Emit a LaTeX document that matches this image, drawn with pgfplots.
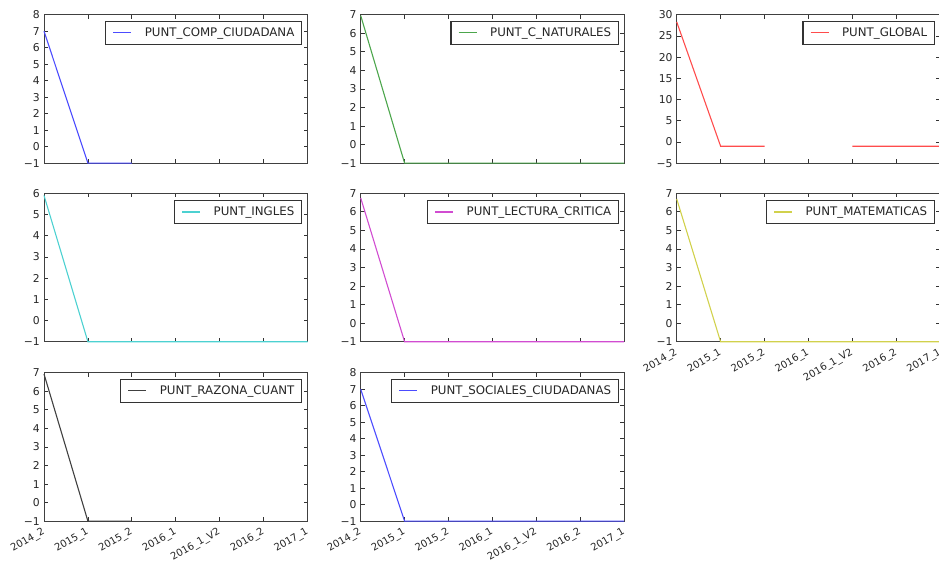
\documentclass[border=0pt]{standalone}
\usepackage{fontspec}
\setmainfont{DejaVu Sans}
\usepackage{pgfplots}
\pgfplotsset{compat=1.18}

\newcommand\fs{\fontsize{11.8}{14}\selectfont}
\newcommand\ts{\fontsize{10}{12}\selectfont}
\newcommand\tsy{\fontsize{10.8}{12}\selectfont}

% line colours: the classic single-letter colours, softened
\definecolor{mplb}{rgb}{0.30,0.30,1.00}
\definecolor{mplg}{rgb}{0.30,0.65,0.30}
\definecolor{mplr}{rgb}{1.00,0.30,0.30}
\definecolor{mplc}{rgb}{0.30,0.82,0.82}
\definecolor{mplm}{rgb}{0.82,0.30,0.82}
\definecolor{mply}{rgb}{0.82,0.82,0.30}
\definecolor{mplk}{rgb}{0.25,0.25,0.25}

\pgfplotsset{
  panel/.style={
    clip=false,
    scale only axis, width=263.5pt, height=148.5pt,
    xmin=0, xmax=6, xtick={0,...,6},
    unbounded coords=jump,
    tick align=inside, major tick length=4pt,
    every tick/.style={black!80, line width=0.8pt},
    axis line style={line width=1pt, black!75},
    tick label style={text=black!85},
    yticklabel style={font=\tsy, inner sep=0pt, xshift=-4pt},
    xticklabel style={font=\ts, rotate=30, anchor=north east, inner sep=0pt, yshift=-3.5pt, xshift=-5pt},
    legend style={at={(1,1)}, anchor=north east, xshift=-5.5pt, yshift=-6pt,
      draw=black!80, line width=1.2pt, font=\fs, text=black!85,
      inner xsep=7pt, inner ysep=6.5pt, nodes={inner sep=0pt}},
    legend image code/.code={\draw[#1, line width=1.1pt] (0pt,0pt) -- (18pt,0pt);},
    /tikz/every odd column/.append style={column sep=13pt},
    every axis plot/.append style={line width=1.1pt, no markers},
  },
  lbl/.style={xticklabels={2014\_2,2015\_1,2015\_2,2016\_1,2016\_1\_V2,2016\_2,2017\_1}},
  nolbl/.style={xticklabels={}},
  mid/.style={legend style={yshift=-0.5pt}},
  y7/.style={ymin=-1, ymax=7, ytick={-1,...,7}, yticklabels={−1,0,1,2,3,4,5,6,7}},
  y8/.style={ymin=-1, ymax=8, ytick={-1,...,8}, yticklabels={−1,0,1,2,3,4,5,6,7,8}},
  y6/.style={ymin=-1, ymax=6, ytick={-1,...,6}, yticklabels={−1,0,1,2,3,4,5,6}},
}

\begin{document}
\begin{tikzpicture}
\useasboundingbox (0,0) rectangle (939pt,560pt);
\clip (0,0) rectangle (939pt,560pt);

% row 1
\begin{axis}[panel, nolbl, y8, at={(44pt,545.3pt)}, anchor=north west]
\addplot[mplb] coordinates {(0,7.0) (1,-1) (2,-1)};
\addlegendentry{PUNT\_COMP\_CIUDADANA}
\end{axis}

\begin{axis}[panel, nolbl, y7, at={(360.7pt,545.3pt)}, anchor=north west]
\addplot[mplg] coordinates {(0,6.95) (1,-1) (2,-1) (3,-1) (4,-1) (5,-1) (6,-1)};
\addlegendentry{PUNT\_C\_NATURALES}
\end{axis}

\begin{axis}[panel, nolbl, at={(676.7pt,545.3pt)}, anchor=north west,
  ymin=-5, ymax=30, ytick={-5,0,...,30}, yticklabels={−5,0,5,10,15,20,25,30}]
\addplot[mplr] coordinates {(0,28.3) (1,-1) (2,-1) (3,nan) (4,-1) (5,-1) (6,-1)};
\addlegendentry{PUNT\_GLOBAL}
\end{axis}

% row 2
\begin{axis}[panel, nolbl, mid, y6, at={(44pt,366.7pt)}, anchor=north west]
\addplot[mplc] coordinates {(0,5.9) (1,-1) (2,-1) (3,-1) (4,-1) (5,-1) (6,-1)};
\addlegendentry{PUNT\_INGLES}
\end{axis}

\begin{axis}[panel, nolbl, mid, y7, at={(360.7pt,366.7pt)}, anchor=north west]
\addplot[mplm] coordinates {(0,6.75) (1,-1) (2,-1) (3,-1) (4,-1) (5,-1) (6,-1)};
\addlegendentry{PUNT\_LECTURA\_CRITICA}
\end{axis}

\begin{axis}[panel, lbl, mid, y7, at={(676.7pt,366.7pt)}, anchor=north west]
\addplot[mply] coordinates {(0,6.7) (1,-1) (2,-1) (3,-1) (4,-1) (5,-1) (6,-1)};
\addlegendentry{PUNT\_MATEMATICAS}
\end{axis}

% row 3
\begin{axis}[panel, lbl, y7, at={(44pt,187.3pt)}, anchor=north west]
\addplot[mplk] coordinates {(0,6.93) (1,-1) (2,-1)};
\addlegendentry{PUNT\_RAZONA\_CUANT}
\end{axis}

\begin{axis}[panel, lbl, y8, at={(360.7pt,187.3pt)}, anchor=north west]
\addplot[mplb] coordinates {(0,7.0) (1,-1) (2,-1) (3,-1) (4,-1) (5,-1) (6,-1)};
\addlegendentry{PUNT\_SOCIALES\_CIUDADANAS}
\end{axis}
\end{tikzpicture}
\end{document}
